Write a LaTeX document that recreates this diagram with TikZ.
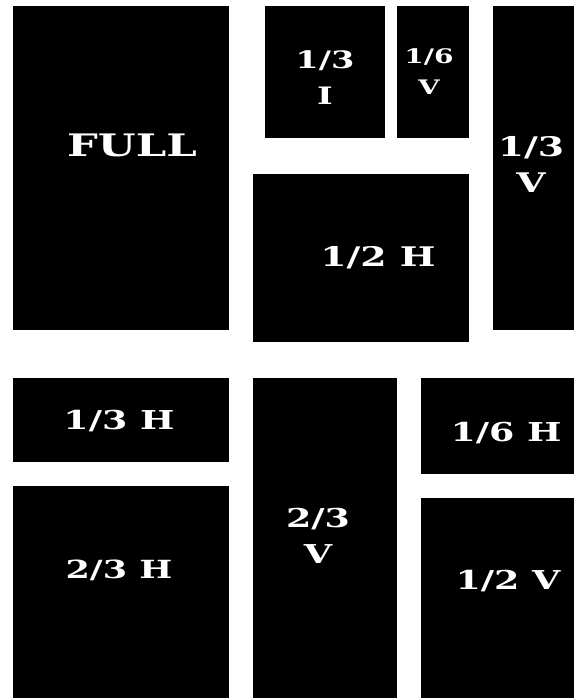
\documentclass[tikz,border=0pt]{standalone}
\usepackage{graphicx}
\usepackage{fontspec}
\setmainfont{DejaVu Serif}
\usepackage{tikz}
\usetikzlibrary{positioning}

% wide bold labels
\newcommand{\wlab}[1]{\scalebox{1.4}[1]{#1}}

\begin{document}
\begin{tikzpicture}[
    x=1pt, y=-1pt,
    panel/.style ={fill=black},
    lbl/.style   ={text=white, align=center, inner sep=0pt, font=\bfseries},
  ]
  \useasboundingbox (0,0) rectangle (574,698);
  % top half
  \fill[panel] (13,6)   rectangle (229,330);
  \fill[panel] (265,6)  rectangle (385,138);
  \fill[panel] (397,6)  rectangle (469,138);
  \fill[panel] (253,174) rectangle (469,342);
  \fill[panel] (493,6)  rectangle (574,330);
  % bottom half
  \fill[panel] (13,378)  rectangle (229,462);
  \fill[panel] (13,486)  rectangle (229,698);
  \fill[panel] (253,378) rectangle (397,698);
  \fill[panel] (421,378) rectangle (574,474);
  \fill[panel] (421,498) rectangle (574,698);
  % labels
  \node[lbl, font=\fontsize{31}{36}\bfseries] (full) at (132,145) {\wlab{FULL}};
  \node[lbl, font=\fontsize{24}{36}\bfseries] (third-i) at (325,78) {\wlab{1/3}\\\wlab{I}};
  \node[lbl, font=\fontsize{20}{31}\bfseries] (sixth-v) at (429,72) {\wlab{1/6}\\\wlab{V}};
  \node[lbl, font=\fontsize{27}{36}\bfseries] (third-v) at (531,164) {\wlab{1/3}\\\wlab{V}};
  \node[lbl, font=\fontsize{27}{36}\bfseries] (half-h) at (378,258) {\wlab{1/2 H}};
  \node[lbl, font=\fontsize{26}{36}\bfseries] (third-h) at (119,421) {\wlab{1/3 H}};
  \node[lbl, font=\fontsize{25}{36}\bfseries] (twothird-h) at (119,570) {\wlab{2/3 H}};
  \node[lbl, font=\fontsize{26}{36}\bfseries] (twothird-v) at (318,536) {\wlab{2/3}\\\wlab{V}};
  \node[lbl, font=\fontsize{26}{36}\bfseries] (sixth-h) at (506,433) {\wlab{1/6 H}};
  \node[lbl, font=\fontsize{26}{36}\bfseries] (half-v) at (508,581) {\wlab{1/2 V}};
\end{tikzpicture}
\end{document}
